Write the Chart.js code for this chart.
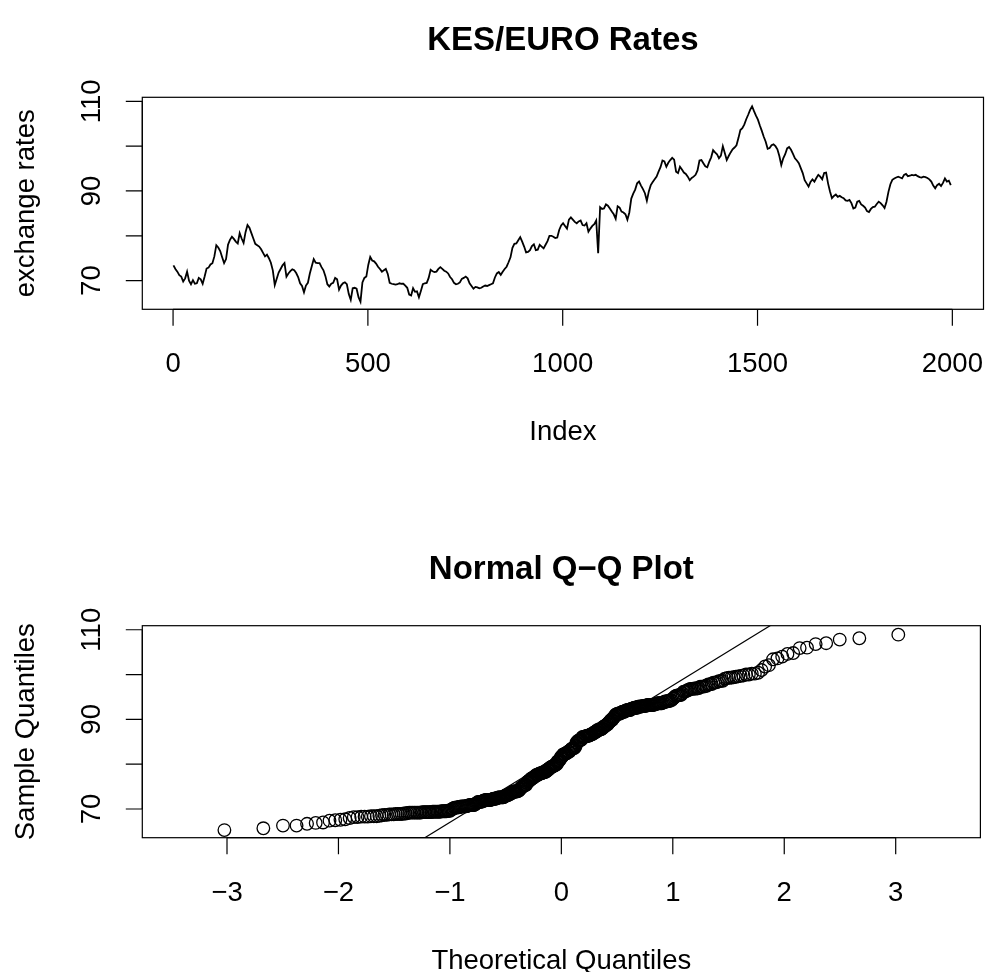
<!DOCTYPE html>
<html>
<head>
<meta charset="utf-8">
<script src="https://cdn.jsdelivr.net/npm/chart.js@4/dist/chart.umd.min.js"></script>
<style>
  html, body { margin: 0; padding: 0; background: #ffffff; }
  #wrap { position: relative; width: 988px; height: 972px; overflow: hidden; background: #fff; }
  canvas { position: absolute; left: 0; }
  #c1 { top: 0; }
  #c2 { top: 476px; }
</style>
</head>
<body>
<div id="wrap">
  <canvas id="c1" width="988" height="476"></canvas>
  <canvas id="c2" width="988" height="496"></canvas>
</div>
<script>
// ---------------- DATA ----------------
// KES/EURO exchange rate, one reading every 5 observations (index 1, 6, 11, ... 1996)
const indexStep = 5;
const rates = [
73.4,72.6,72.0,71.2,70.9,69.8,70.5,72.0,70.0,69.2,70.1,69.3,69.4,70.6,70.3,69.3,70.9,72.7,72.9,73.6,
73.9,75.4,77.9,77.4,76.6,75.2,73.9,74.8,78.0,79.1,79.8,79.3,78.7,78.3,80.6,79.4,78.4,80.8,82.4,81.8,
80.6,79.4,78.2,77.9,77.6,77.0,76.2,75.4,75.8,75.0,74.0,72.3,69.0,70.4,71.8,72.6,73.4,73.9,70.9,71.6,
72.1,72.5,72.3,71.7,70.8,69.4,68.8,67.4,68.9,69.5,71.6,73.2,74.8,74.0,73.9,73.9,73.0,72.3,71.0,69.2,
68.7,69.3,69.5,70.6,70.3,68.0,68.9,69.4,69.6,69.2,67.0,65.7,68.3,68.4,68.2,66.3,65.3,69.6,70.6,70.9,
73.5,75.3,74.5,74.3,73.8,73.1,72.6,72.0,72.3,72.6,71.5,69.5,69.3,69.2,69.1,69.2,69.4,69.3,69.3,68.9,
68.4,66.9,66.7,68.3,67.5,67.6,66.3,67.7,69.2,69.4,69.5,70.6,72.4,72.1,71.9,72.0,72.6,73.0,72.6,72.2,
72.0,71.6,70.8,70.3,69.5,69.2,69.3,69.6,70.4,70.6,70.9,70.5,69.4,68.8,68.2,68.6,68.5,68.3,68.4,68.7,
68.9,68.8,69.0,69.2,69.4,70.7,71.6,71.9,71.3,72.0,72.6,73.1,74.1,75.2,77.3,78.2,78.3,79.0,79.7,78.7,
77.6,76.3,76.4,76.8,77.7,78.1,76.8,76.9,78.0,77.6,77.2,78.0,78.8,80.0,80.0,79.8,79.5,79.6,81.3,82.3,
82.8,82.2,81.6,83.6,84.1,83.6,83.1,82.8,83.2,83.4,82.4,82.3,82.8,80.9,81.6,82.2,82.6,83.4,76.1,86.4,
86.0,86.1,87.0,86.7,86.1,85.4,84.8,83.8,86.6,86.3,85.4,85.2,84.8,83.6,85.2,88.3,89.4,90.3,91.7,92.1,
91.2,90.4,89.5,87.8,89.9,91.3,92.0,92.6,93.2,94.3,95.3,96.8,96.6,95.4,96.3,96.9,97.4,97.0,94.3,94.0,
95.4,94.8,94.1,93.8,93.2,92.4,92.9,93.2,93.6,94.6,96.8,96.9,96.2,95.5,95.3,96.5,97.5,99.1,98.6,98.2,
97.3,97.9,100.0,98.5,96.9,97.8,98.6,99.3,99.7,100.2,101.8,103.6,104.0,104.8,106.0,107.0,108.1,108.9,107.8,106.8,
105.9,104.6,103.4,102.1,101.0,99.4,99.6,100.2,100.4,100.0,99.3,97.8,95.8,97.3,98.2,99.5,99.8,99.2,98.3,97.3,
96.8,96.2,95.1,94.0,92.4,91.7,91.0,92.0,92.6,92.1,92.9,93.6,93.2,92.6,94.0,94.1,91.7,89.9,88.4,88.9,
89.2,88.7,88.9,88.6,88.4,87.9,87.8,88.0,87.3,86.1,86.3,87.6,87.8,87.0,86.7,86.3,85.5,85.3,86.0,86.4,
86.5,87.1,87.6,87.3,86.8,86.2,87.6,89.8,91.5,92.5,92.8,93.0,93.2,93.0,92.8,93.6,93.8,93.3,93.4,93.6,
93.5,93.6,93.3,93.1,93.0,93.2,93.1,92.9,92.6,92.1,91.2,90.6,91.3,91.6,91.1,91.8,92.8,92.1,92.3,91.3
];

// axis ticks and labels
const seriesXTicks = [0, 500, 1000, 1500, 2000];
const seriesXLabels = ["0", "500", "1000", "1500", "2000"];
const rateYTicks = [70, 80, 90, 100, 110];
const rateYLabels = ["70", "", "90", "", "110"];
const qqXTicks = [-3, -2, -1, 0, 1, 2, 3];
const qqXLabels = ["\u22123", "\u22122", "\u22121", "0", "1", "2", "3"];

// axis limits
const seriesXRange = [-78.96, 2079.96];
const rateYRange = [63.6, 110.9];
const qqXRange = [-3.76, 3.76];

// texts
const titleTop = "KES/EURO Rates";
const xTitleTop = "Index";
const yTitleTop = "exchange rates";
const titleBottom = "Normal Q\u2212Q Plot";
const xTitleBottom = "Theoretical Quantiles";
const yTitleBottom = "Sample Quantiles";

// ---------------- derived (as qqnorm / qqline do) ----------------
const seriesPoints = rates.map((v, k) => ({ x: 1 + k * indexStep, y: v }));

function qnorm(p) {
  const a=[-3.969683028665376e+01,2.209460984245205e+02,-2.759285104469687e+02,1.383577518672690e+02,-3.066479806614716e+01,2.506628277459239e+00];
  const b=[-5.447609879822406e+01,1.615858368580409e+02,-1.556989798598866e+02,6.680131188771972e+01,-1.328068155288572e+01];
  const c=[-7.784894002430293e-03,-3.223964580411365e-01,-2.400758277161838e+00,-2.549671875050320e+00,4.374664141464968e+00,2.938163982698783e+00];
  const d=[7.784695709041462e-03,3.224671290700398e-01,2.445134137142996e+00,3.754408661907416e+00];
  const pl = 0.02425, ph = 1 - pl;
  let q, r;
  if (p < pl) { q = Math.sqrt(-2*Math.log(p)); return (((((c[0]*q+c[1])*q+c[2])*q+c[3])*q+c[4])*q+c[5])/((((d[0]*q+d[1])*q+d[2])*q+d[3])*q+1); }
  if (p <= ph) { q = p - 0.5; r = q*q; return (((((a[0]*r+a[1])*r+a[2])*r+a[3])*r+a[4])*r+a[5])*q/(((((b[0]*r+b[1])*r+b[2])*r+b[3])*r+b[4])*r+1); }
  q = Math.sqrt(-2*Math.log(1-p)); return -(((((c[0]*q+c[1])*q+c[2])*q+c[3])*q+c[4])*q+c[5])/((((d[0]*q+d[1])*q+d[2])*q+d[3])*q+1);
}
const sorted = rates.slice().sort((p, q) => p - q);
const n = sorted.length;
const qqPoints = sorted.map((v, i) => ({ x: qnorm((i + 1 - 0.5) / n), y: v }));
function quantile7(s, p) { const h = (s.length - 1) * p, lo = Math.floor(h); return s[lo] + (h - lo) * ((s[Math.min(lo + 1, s.length - 1)]) - s[lo]); }
const qy1 = quantile7(sorted, 0.25), qy2 = quantile7(sorted, 0.75);
const qx1 = qnorm(0.25), qx2 = qnorm(0.75);
const qqSlope = (qy2 - qy1) / (qx2 - qx1);
const qqInt = qy1 - qqSlope * qx1;
const qqLine = qqXRange.map(x => ({ x: x, y: qqInt + qqSlope * x }));

// ---------------- R-style axes plugin ----------------
const FONT = '"Liberation Sans", Arial, Helvetica, sans-serif';
const AX = 27.5, TICK = 16.5;
function rAxes(cfg) {
  return {
    id: 'rAxes',
    afterDraw(chart) {
      const ctx = chart.ctx, ca = chart.chartArea, xs = chart.scales.x, ys = chart.scales.y;
      ctx.save();
      ctx.strokeStyle = '#000'; ctx.fillStyle = '#000'; ctx.lineWidth = 1.2;
      ctx.strokeRect(ca.left, ca.top, ca.right - ca.left, ca.bottom - ca.top);
      // x axis
      const xpx = cfg.xTicks.map(t => xs.getPixelForValue(t));
      ctx.beginPath();
      ctx.moveTo(xpx[0], ca.bottom); ctx.lineTo(xpx[xpx.length - 1], ca.bottom);
      xpx.forEach(p => { ctx.moveTo(p, ca.bottom); ctx.lineTo(p, ca.bottom + TICK); });
      ctx.stroke();
      ctx.font = AX + 'px ' + FONT; ctx.textAlign = 'center'; ctx.textBaseline = 'alphabetic';
      xpx.forEach((p, i) => ctx.fillText(cfg.xLabels[i], p, ca.bottom + 63));
      // y axis
      const ypx = cfg.yTicks.map(t => ys.getPixelForValue(t));
      ctx.beginPath();
      ctx.moveTo(ca.left, ypx[0]); ctx.lineTo(ca.left, ypx[ypx.length - 1]);
      ypx.forEach(p => { ctx.moveTo(ca.left, p); ctx.lineTo(ca.left - TICK, p); });
      ctx.stroke();
      ypx.forEach((p, i) => {
        if (!cfg.yLabels[i]) return;
        ctx.save(); ctx.translate(ca.left - 42.3, p); ctx.rotate(-Math.PI / 2);
        ctx.fillText(cfg.yLabels[i], 0, 0); ctx.restore();
      });
      // axis titles
      const cx = (ca.left + ca.right) / 2, cy = (ca.top + ca.bottom) / 2;
      ctx.fillText(cfg.xTitle, cx, ca.bottom + 131);
      ctx.save(); ctx.translate(ca.left - 108.3, cy); ctx.rotate(-Math.PI / 2);
      ctx.fillText(cfg.yTitle, 0, 0); ctx.restore();
      // main title
      ctx.font = 'bold 33px ' + FONT;
      ctx.fillText(cfg.title, cx, ca.top - 47);
      ctx.restore();
    }
  };
}

function baseOptions(xr, pad) {
  return {
    responsive: false, animation: false, devicePixelRatio: 1,
    layout: { padding: pad },
    plugins: { legend: { display: false }, tooltip: { enabled: false }, title: { display: false } },
    scales: {
      x: { type: 'linear', min: xr[0], max: xr[1], display: false },
      y: { type: 'linear', min: rateYRange[0], max: rateYRange[1], display: false }
    }
  };
}

new Chart(document.getElementById('c1'), {
  type: 'scatter',
  data: { datasets: [{
    data: seriesPoints, showLine: true, borderColor: '#000', borderWidth: 1.8,
    pointRadius: 0, tension: 0, fill: false
  }] },
  options: baseOptions(seriesXRange, { left: 142.3, right: 4.5, top: 97.3, bottom: 476 - 309.3 }),
  plugins: [rAxes({ xTicks: seriesXTicks, xLabels: seriesXLabels, yTicks: rateYTicks, yLabels: rateYLabels,
                    title: titleTop, xTitle: xTitleTop, yTitle: yTitleTop })]
});

new Chart(document.getElementById('c2'), {
  type: 'scatter',
  data: { datasets: [
    { data: qqPoints, pointStyle: 'circle', pointRadius: 6.3, borderWidth: 1.3,
      pointBorderColor: '#000', pointBackgroundColor: 'rgba(0,0,0,0)', showLine: false },
    { data: qqLine, showLine: true, borderColor: '#000', borderWidth: 1.2, pointRadius: 0, tension: 0, clip: 0 }
  ] },
  options: baseOptions(qqXRange, { left: 142.3, right: 4.3, top: 625.7 - 476, bottom: 972 - 837.7 }),
  plugins: [rAxes({ xTicks: qqXTicks, xLabels: qqXLabels, yTicks: rateYTicks, yLabels: rateYLabels,
                    title: titleBottom, xTitle: xTitleBottom, yTitle: yTitleBottom })]
});
</script>
</body>
</html>
